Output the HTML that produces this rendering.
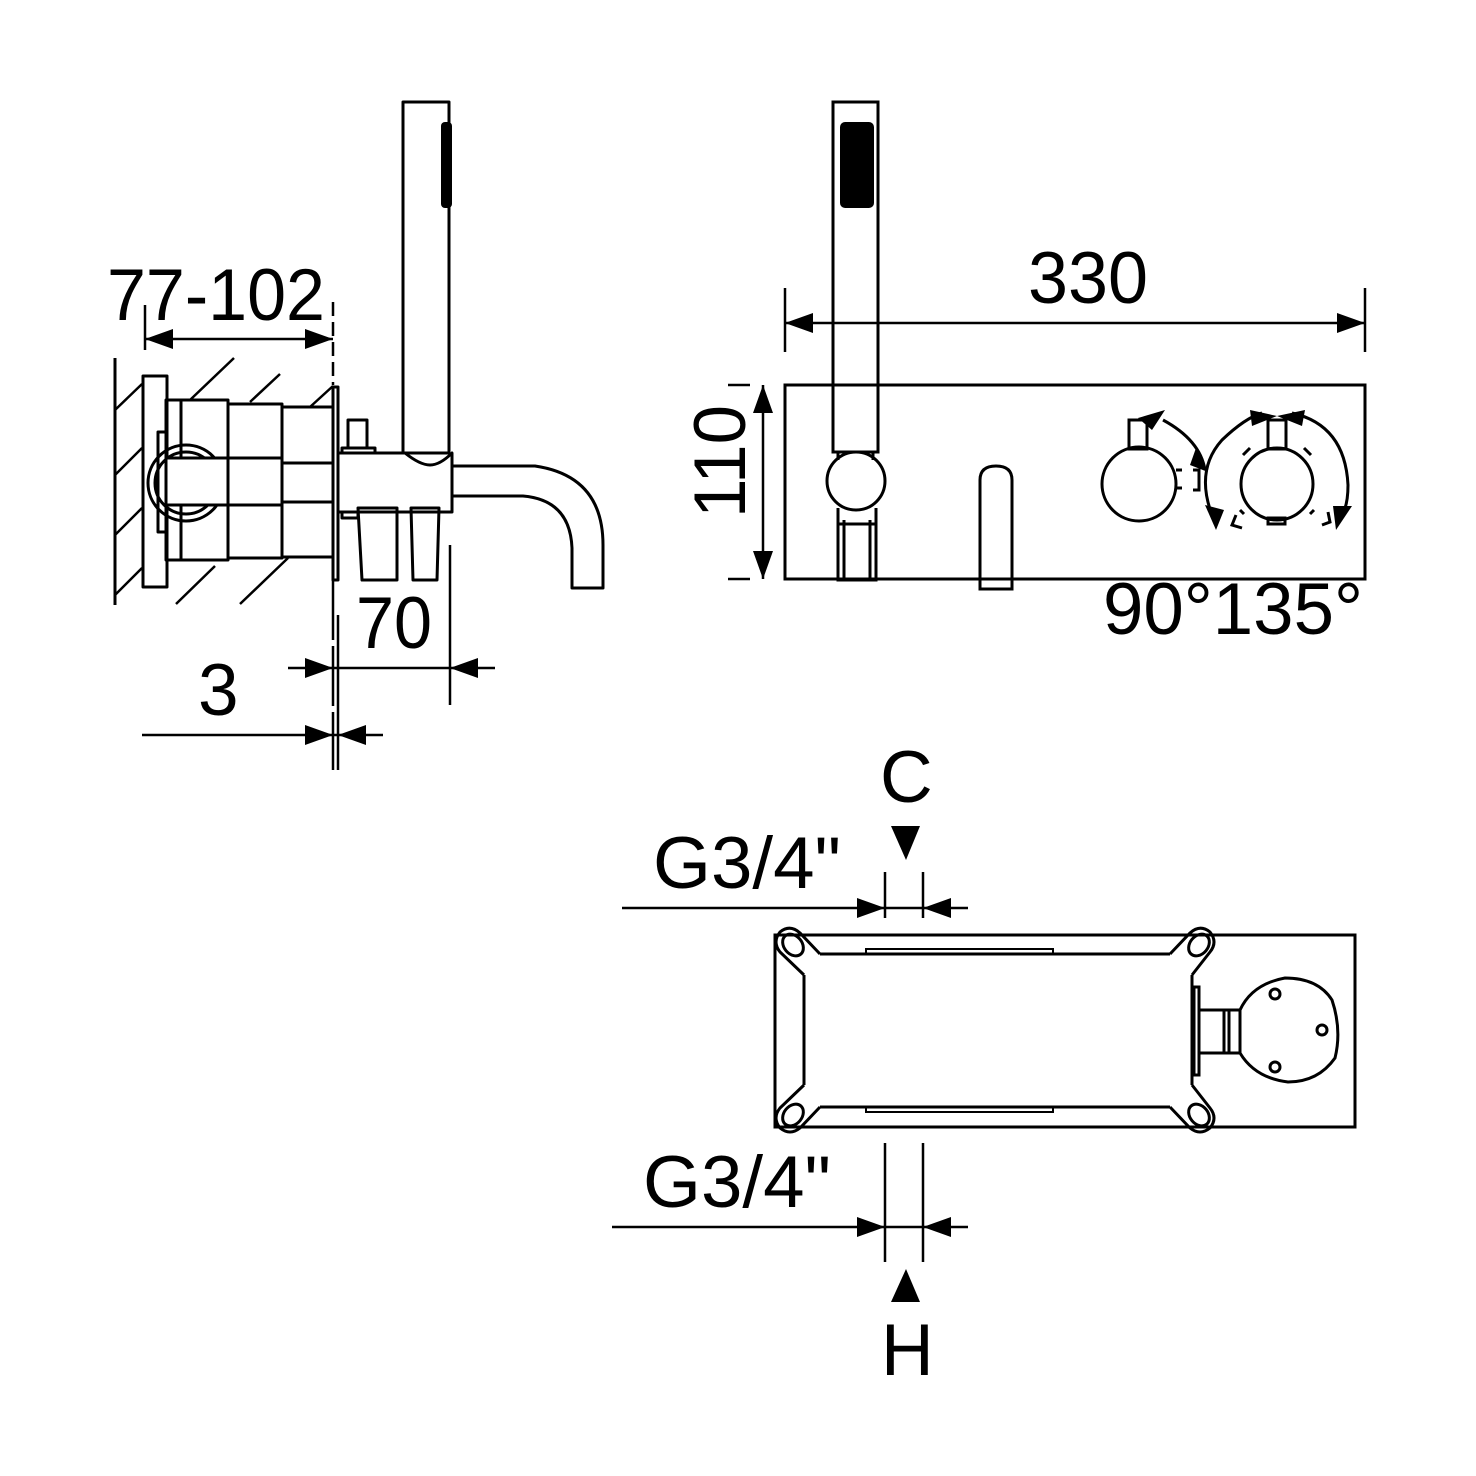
<!DOCTYPE html>
<html><head><meta charset="utf-8"><style>
html,body{margin:0;padding:0;background:#fff;}
svg{display:block;}
text{font-family:"Liberation Sans","DejaVu Sans",sans-serif;fill:#000;}
</style></head><body>
<svg width="1476" height="1476" viewBox="0 0 1476 1476" xmlns="http://www.w3.org/2000/svg">
<rect width="1476" height="1476" fill="#fff"/>
<g fill="none" stroke="#000" stroke-width="3" stroke-linejoin="round">
<line x1="115" y1="358" x2="115" y2="605"/>
<g stroke-width="2.5">
<line x1="115" y1="410" x2="142" y2="384"/>
<line x1="115" y1="475" x2="142" y2="448"/>
<line x1="115" y1="535" x2="142" y2="508"/>
<line x1="115" y1="595" x2="142" y2="568"/>
<line x1="190" y1="400" x2="234" y2="358"/>
<line x1="250" y1="402" x2="280" y2="374"/>
<line x1="310" y1="407" x2="333" y2="386"/>
<line x1="176" y1="604" x2="215" y2="566"/>
<line x1="240" y1="604" x2="288" y2="558"/>
</g>
<rect x="143" y="376" width="24" height="211"/>
<rect x="166" y="400" width="62" height="160"/>
<line x1="181" y1="400" x2="181" y2="560"/>
<rect x="228" y="404" width="54" height="154"/>
<rect x="158" y="432" width="8" height="100"/>
<circle cx="186" cy="483" r="38"/>
<circle cx="186" cy="483" r="31"/>
<rect x="166" y="458" width="62" height="47" fill="#fff"/>
<rect x="228" y="458" width="54" height="47" fill="#fff"/>
<rect x="282" y="407" width="51" height="150"/>
<line x1="282" y1="463" x2="333" y2="463"/>
<line x1="282" y1="502" x2="333" y2="502"/>
<rect x="333" y="387" width="5" height="193"/>
<path d="M338 453 L405 453 Q420 465 430 465 Q440 465 452 453 L452 512 L338 512 Z"/>
<rect x="348" y="420" width="19" height="28"/>
<rect x="342" y="448" width="33" height="5"/>
<rect x="342" y="512" width="16" height="6"/>
<path d="M358 508 L397 508 L397 580 L362 580 Z"/>
<path d="M411 508 L439 508 L437 580 L413 580 Z"/>
<path d="M452 466 L535 466 Q603 476 603 545 L603 588 L572 588 L572 548 Q570 500 523 496 L452 496"/>
<rect x="403" y="102" width="46" height="351"/>
</g>
<rect x="441" y="122" width="11" height="86" rx="4" fill="#000"/>

<g stroke="#000" stroke-width="2.5" fill="none">
<line x1="145" y1="305" x2="145" y2="350"/>
<line x1="333" y1="302" x2="333" y2="385" stroke-dasharray="14 6"/>
<line x1="145" y1="339" x2="333" y2="339"/>
<line x1="333" y1="580" x2="333" y2="770" stroke-dasharray="60 6"/>
<line x1="338" y1="615" x2="338" y2="770"/>
<line x1="450" y1="545" x2="450" y2="705"/>
<line x1="288" y1="668" x2="495" y2="668"/>
<line x1="142" y1="735" x2="383" y2="735"/>
</g>
<g fill="#000">
<polygon points="145,339 173,329 173,349"/>
<polygon points="333,339 305,329 305,349"/>
<polygon points="333,668 305,658 305,678"/>
<polygon points="450,668 478,658 478,678"/>
<polygon points="333,735 305,725 305,745"/>
<polygon points="338,735 366,725 366,745"/>
</g>
<text x="107" y="320" font-size="73" textLength="218" lengthAdjust="spacingAndGlyphs">77-102</text>
<text x="356" y="648" font-size="73" textLength="76" lengthAdjust="spacingAndGlyphs">70</text>
<text x="198" y="715" font-size="73">3</text>

<g fill="none" stroke="#000" stroke-width="3">
<rect x="785" y="385" width="580" height="194"/>
<rect x="833" y="102" width="45" height="350"/>
<line x1="838" y1="452" x2="838" y2="460"/><line x1="873" y1="452" x2="873" y2="460"/>
<circle cx="856" cy="481" r="29"/>
<path d="M838 508 L838 580 L876 580 L876 508"/>
<path d="M844 520 L844 580 M870 520 L870 580 M838 524 L876 524"/>
<path d="M980 589 L980 480 Q980 466 996 466 Q1012 466 1012 480 L1012 589 Z"/>
<circle cx="1139" cy="484" r="37"/>
<rect x="1129" y="420" width="18" height="29"/>
<path d="M1176 470 L1182 470 M1176 488 L1182 488"/>
<circle cx="1277" cy="484" r="36"/>
<rect x="1268" y="420" width="18" height="29"/>
<rect x="1268" y="518" width="17" height="6"/>
<path d="M1243 455 L1250 448 M1304 448 L1311 455 M1240 510 L1244 514 M1310 514 L1314 510"/>
<path d="M1236 515 L1232 525 L1242 528"/>
<path d="M1328 512 L1330 522 L1322 525"/>
<path d="M1163 420 Q1200 440 1205 470"/>
<path d="M1212 515 Q1195 470 1222 440 Q1245 418 1262 413"/>
<path d="M1292 413 Q1345 425 1348 485 Q1348 505 1342 515"/>
<path d="M1193 470 L1199 470 L1199 490 L1193 490"/>
</g>
<g fill="#000">
<polygon points="1165,410 1138,418 1152,430"/>
<polygon points="1208,472 1196,448 1190,465"/>
<polygon points="1216,530 1205,505 1224,510"/>
<polygon points="1250,410 1277,416 1252,426"/>
<polygon points="1305,410 1277,416 1302,426"/>
<polygon points="1336,530 1352,506 1333,506"/>
</g>
<rect x="840" y="122" width="34" height="86" rx="5" fill="#000"/>
<g stroke="#000" stroke-width="2.5">
<line x1="785" y1="288" x2="785" y2="352"/>
<line x1="1365" y1="288" x2="1365" y2="352"/>
<line x1="785" y1="323" x2="1365" y2="323"/>
<line x1="728" y1="385" x2="750" y2="385"/>
<line x1="728" y1="579" x2="750" y2="579"/>
<line x1="763" y1="385" x2="763" y2="579"/>
</g>
<g fill="#000">
<polygon points="785,323 813,313 813,333"/>
<polygon points="1365,323 1337,313 1337,333"/>
<polygon points="763,385 753,413 773,413"/>
<polygon points="763,579 753,551 773,551"/>
</g>
<text x="1028" y="303" font-size="73" textLength="120" lengthAdjust="spacingAndGlyphs">330</text>
<text transform="translate(745,518) rotate(-90)" font-size="73" textLength="113" lengthAdjust="spacingAndGlyphs">110</text>
<text x="1103" y="634" font-size="73" textLength="260" lengthAdjust="spacingAndGlyphs">90°135°</text>

<g fill="none" stroke="#000" stroke-width="3">
<rect x="775" y="935" width="580" height="192"/>
<path d="M820 954 L1170 954 M820 1107 L1170 1107"/>
<path d="M804 975 L804 1085 M1192 975 L1192 1085"/>
<path d="M820 954 L800 933 Q790 924 780 932 Q772 942 780 952 L804 975"/>
<path d="M820 1107 L800 1128 Q790 1136 780 1128 Q772 1118 780 1108 L804 1085"/>
<path d="M1170 954 L1190 933 Q1200 924 1210 932 Q1218 942 1210 952 L1192 975"/>
<path d="M1170 1107 L1190 1128 Q1200 1136 1210 1128 Q1218 1118 1210 1108 L1192 1085"/>
<ellipse cx="793" cy="945" rx="9" ry="12" transform="rotate(-40 793 945)"/>
<ellipse cx="793" cy="1115" rx="9" ry="12" transform="rotate(40 793 1115)"/>
<ellipse cx="1199" cy="945" rx="9" ry="12" transform="rotate(40 1199 945)"/>
<ellipse cx="1199" cy="1115" rx="9" ry="12" transform="rotate(-40 1199 1115)"/>
<rect x="1194" y="987" width="5" height="88"/>
<rect x="1199" y="1010" width="41" height="43"/>
<line x1="1224" y1="1010" x2="1224" y2="1053"/>
<line x1="1229" y1="1010" x2="1229" y2="1053"/>
<path d="M1240 1010 Q1252 984 1285 978 Q1318 978 1332 1000 Q1342 1030 1335 1058 Q1318 1082 1288 1082 Q1255 1078 1240 1053"/>
<circle cx="1275" cy="994" r="5"/>
<circle cx="1322" cy="1030" r="5"/>
<circle cx="1275" cy="1067" r="5"/>
</g>
<g fill="none" stroke="#000" stroke-width="2">
<rect x="866" y="949" width="187" height="5"/>
<rect x="866" y="1107" width="187" height="5"/>
</g>
<g stroke="#000" stroke-width="2.5">
<line x1="622" y1="908" x2="968" y2="908"/>
<line x1="885" y1="872" x2="885" y2="918"/>
<line x1="923" y1="872" x2="923" y2="918"/>
<line x1="612" y1="1227" x2="968" y2="1227"/>
<line x1="885" y1="1143" x2="885" y2="1262"/>
<line x1="923" y1="1143" x2="923" y2="1262"/>
</g>
<g fill="#000">
<polygon points="885,908 857,898 857,918"/>
<polygon points="923,908 951,898 951,918"/>
<polygon points="885,1227 857,1217 857,1237"/>
<polygon points="923,1227 951,1217 951,1237"/>
<polygon points="891,826 920,826 906,860"/>
<polygon points="891,1302 920,1302 906,1269"/>
</g>
<text x="653" y="888" font-size="73" textLength="188" lengthAdjust="spacingAndGlyphs">G3/4"</text>
<text x="643" y="1207" font-size="73" textLength="188" lengthAdjust="spacingAndGlyphs">G3/4"</text>
<text x="880" y="802" font-size="73">C</text>
<text x="881" y="1375" font-size="73">H</text>
</svg>
</body></html>
